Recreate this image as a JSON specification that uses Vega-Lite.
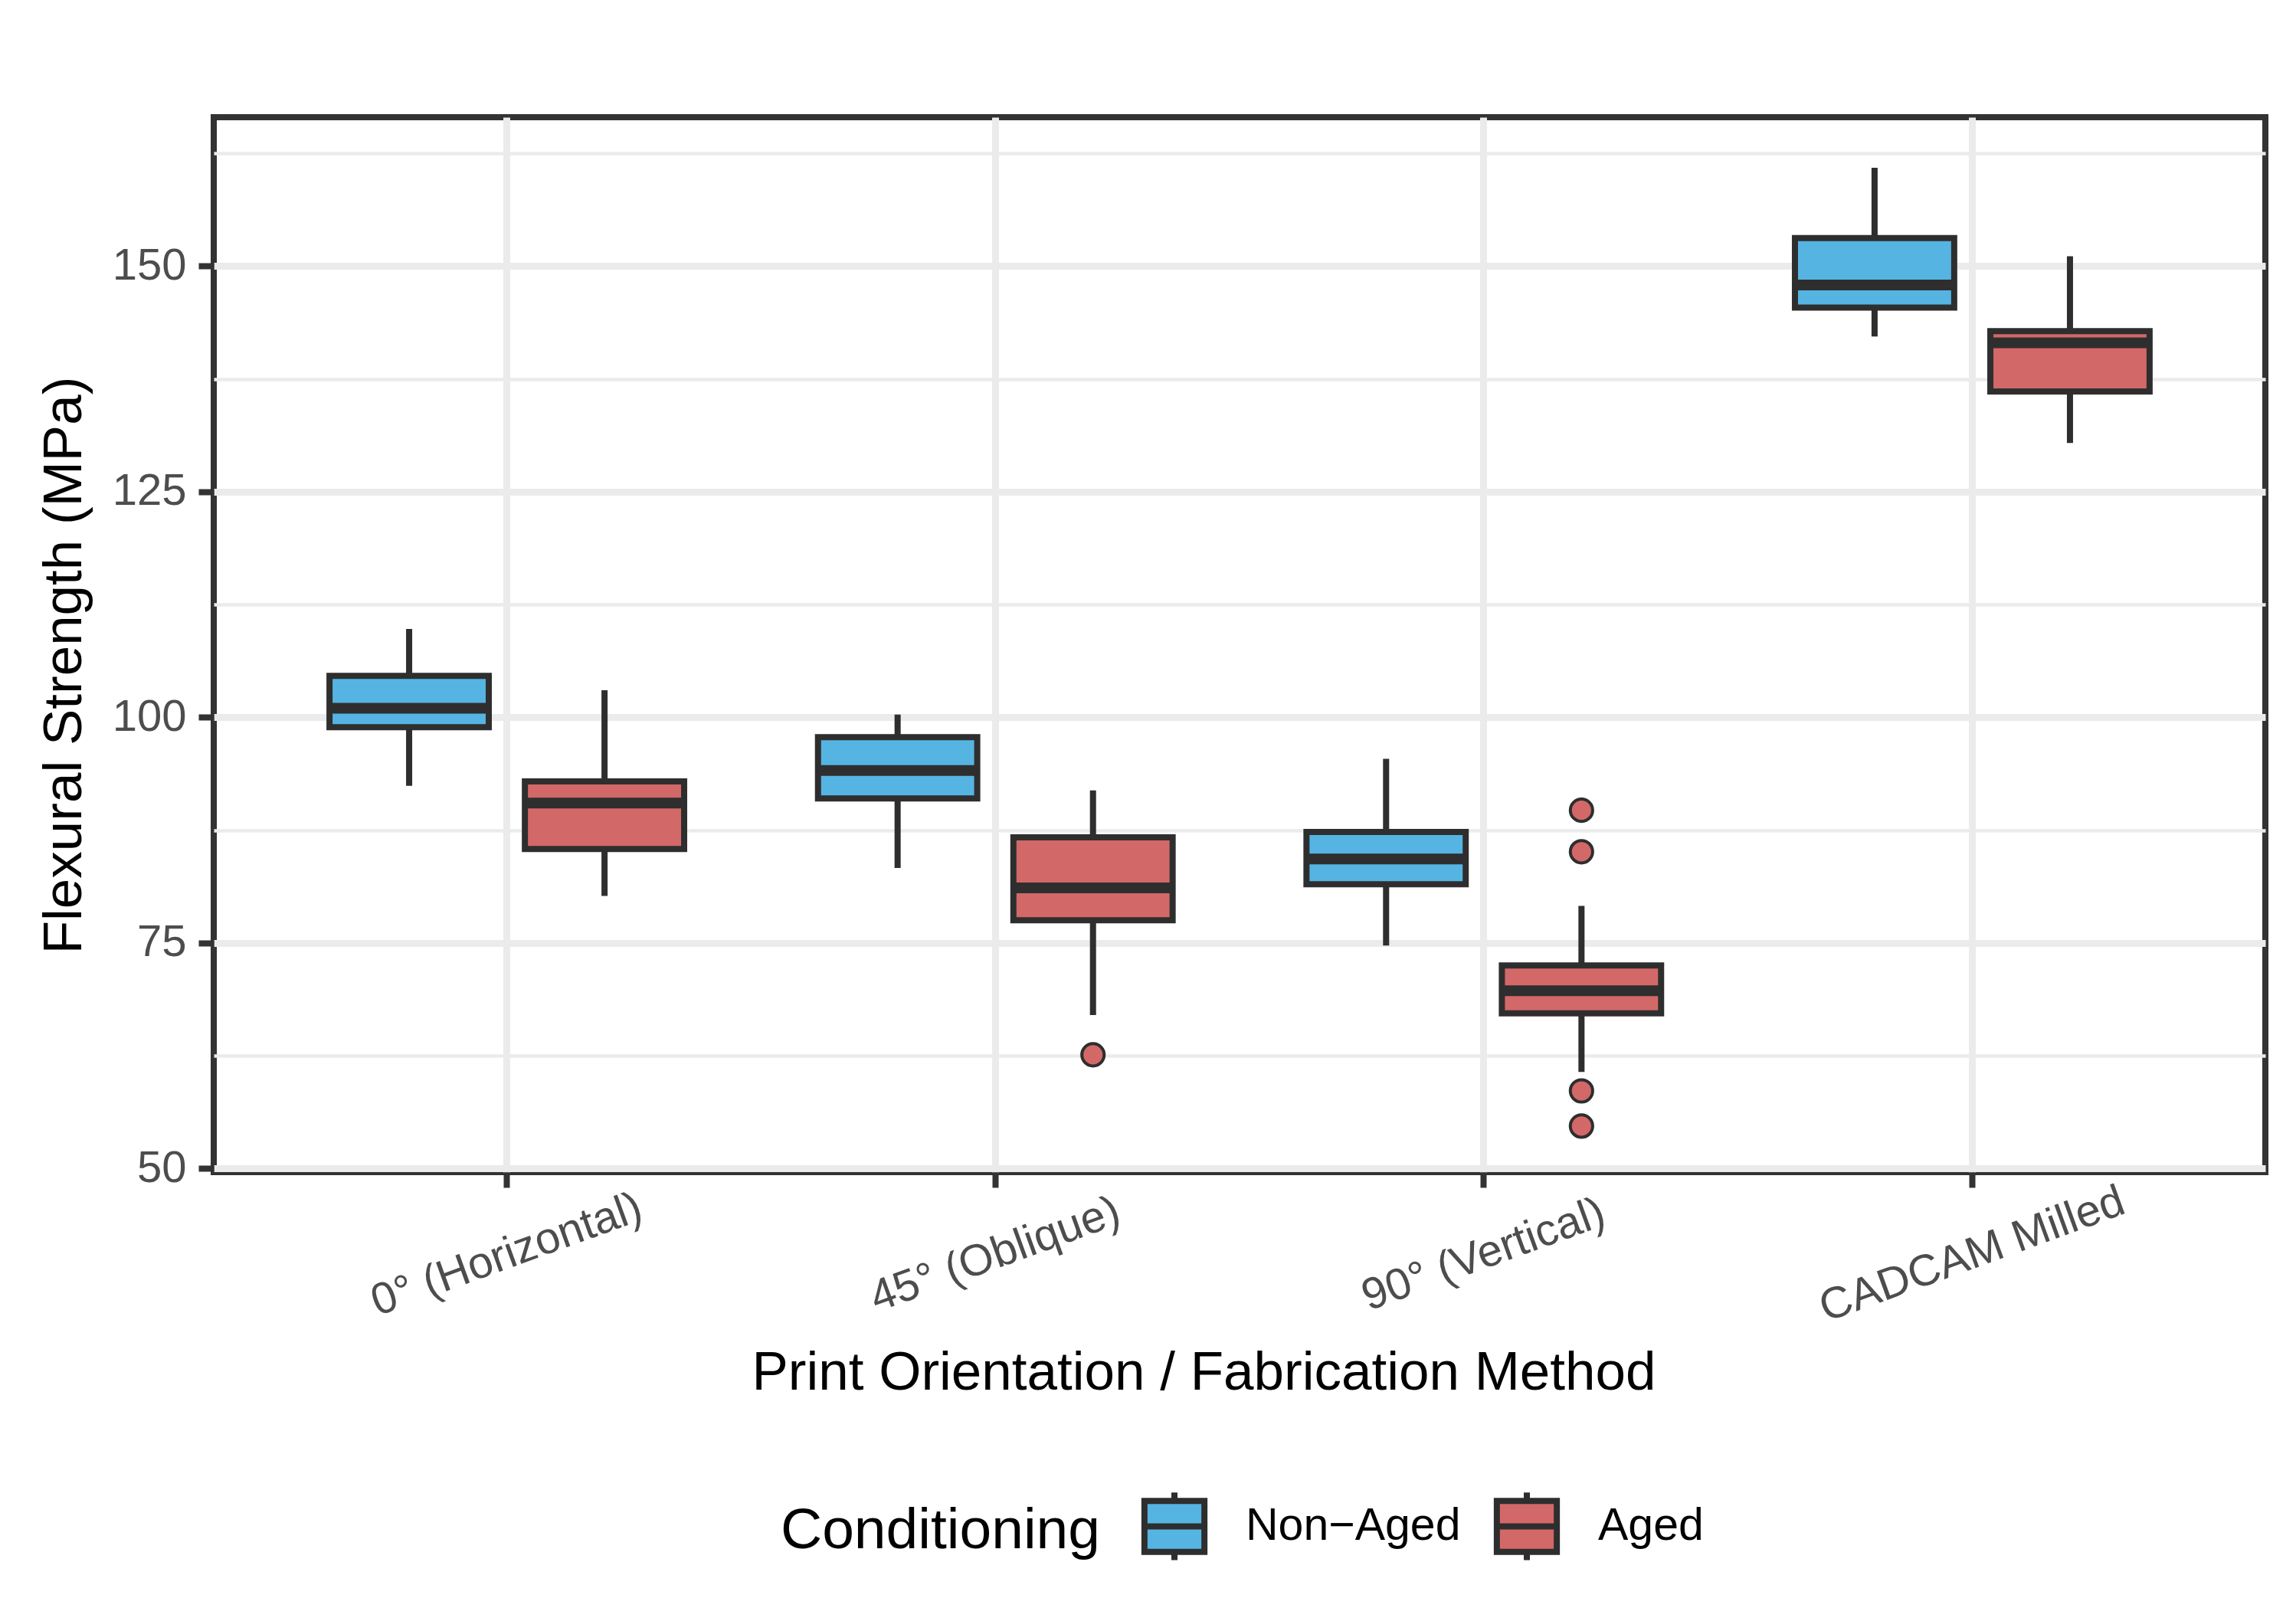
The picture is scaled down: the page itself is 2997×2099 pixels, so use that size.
{
  "$schema": "https://vega.github.io/schema/vega-lite/v6.json",
  "width": 2678,
  "height": 1377,
  "autosize": "none",
  "padding": {"left": 279, "top": 153, "right": 40, "bottom": 569},
  "background": "white",
  "config": {
    "font": "Liberation Sans",
    "view": {"stroke": "#333333", "strokeWidth": 8},
    "axis": {
      "gridColor": "#EBEBEB",
      "tickColor": "#333333",
      "labelColor": "#4D4D4D",
      "labelFontSize": 58,
      "labelLimit": 0,
      "titleFontSize": 71,
      "titleColor": "#000000",
      "titleFontWeight": "normal",
      "domain": false
    }
  },
  "datasets": {
    "boxes": [
      {"group": "0° (Horizontal)", "condition": "Non−Aged", "lower": 92.4, "q1": 98.9, "median": 101.0, "q3": 104.6, "upper": 109.8},
      {"group": "0° (Horizontal)", "condition": "Aged", "lower": 80.2, "q1": 85.4, "median": 90.5, "q3": 92.9, "upper": 103.0},
      {"group": "45° (Oblique)", "condition": "Non−Aged", "lower": 83.3, "q1": 91.0, "median": 94.1, "q3": 97.8, "upper": 100.3},
      {"group": "45° (Oblique)", "condition": "Aged", "lower": 67.0, "q1": 77.5, "median": 81.1, "q3": 86.7, "upper": 91.9},
      {"group": "90° (Vertical)", "condition": "Non−Aged", "lower": 74.7, "q1": 81.5, "median": 84.3, "q3": 87.3, "upper": 95.4},
      {"group": "90° (Vertical)", "condition": "Aged", "lower": 60.7, "q1": 67.2, "median": 69.7, "q3": 72.5, "upper": 79.1},
      {"group": "CADCAM Milled", "condition": "Non−Aged", "lower": 142.2, "q1": 145.4, "median": 147.9, "q3": 153.1, "upper": 160.9},
      {"group": "CADCAM Milled", "condition": "Aged", "lower": 130.4, "q1": 136.1, "median": 141.5, "q3": 142.8, "upper": 151.1}
    ],
    "outliers": [
      {"group": "45° (Oblique)", "condition": "Aged", "value": 62.6},
      {"group": "90° (Vertical)", "condition": "Aged", "value": 89.7},
      {"group": "90° (Vertical)", "condition": "Aged", "value": 85.1},
      {"group": "90° (Vertical)", "condition": "Aged", "value": 58.6},
      {"group": "90° (Vertical)", "condition": "Aged", "value": 54.7}
    ]
  },
  "layer": [
    {
      "data": {"name": "boxes"},
      "mark": {"type": "rule", "color": "#2E2E2E", "strokeWidth": 8, "opacity": 1},
      "encoding": {
        "x": {
          "field": "group", "type": "nominal",
          "sort": ["0° (Horizontal)", "45° (Oblique)", "90° (Vertical)", "CADCAM Milled"],
          "scale": {"paddingInner": 0, "paddingOuter": 0.1},
          "axis": {
            "title": "Print Orientation / Fabrication Method",
            "grid": true, "gridWidth": 9, "bandPosition": 0.5,
            "tickSize": 20, "tickWidth": 8,
            "labelAngle": -20, "labelAlign": "center", "labelBaseline": "middle",
            "labelPadding": 88, "labelOverlap": false, "labelFlush": false, "labelDx": -20,
            "titleX": 1292, "titleY": 283, "titleBaseline": "alphabetic"
          }
        },
        "xOffset": {
          "field": "condition", "type": "nominal", "sort": ["Non−Aged", "Aged"],
          "scale": {"paddingInner": 0.185, "paddingOuter": 0.3425}
        },
        "y": {
          "field": "lower", "type": "quantitative",
          "scale": {"domain": [49.6, 166.5], "nice": false, "zero": false},
          "axis": {
            "orient": "left", "values": [50, 75, 100, 125, 150],
            "title": "Flexural Strength (MPa)",
            "gridWidth": 9, "tickSize": 20, "tickWidth": 8, "labelPadding": 16,
            "titleAngle": 270, "titleBaseline": "alphabetic", "titleX": -174, "titleY": 715
          }
        },
        "y2": {"field": "upper"}
      }
    },
    {
      "data": {"name": "boxes"},
      "mark": {"type": "bar", "stroke": "#2E2E2E", "strokeWidth": 8, "opacity": 1},
      "encoding": {
        "x": {"field": "group", "type": "nominal", "sort": ["0° (Horizontal)", "45° (Oblique)", "90° (Vertical)", "CADCAM Milled"]},
        "xOffset": {"field": "condition", "type": "nominal", "sort": ["Non−Aged", "Aged"]},
        "y": {"field": "q1", "type": "quantitative", "scale": {"domain": [49.6, 166.5], "nice": false, "zero": false}, "axis": null},
        "y2": {"field": "q3"},
        "fill": {
          "field": "condition", "type": "nominal",
          "scale": {"domain": ["Non−Aged", "Aged"], "range": ["#56B4E2", "#D36868"]},
          "legend": {
            "title": "Conditioning",
            "orient": "none", "legendX": 740, "legendY": 1790,
            "direction": "horizontal",
            "titleOrient": "left", "titleFontSize": 75, "titleFontWeight": "normal",
            "titleColor": "#000000", "titlePadding": 48, "titleLimit": 0,
            "titleBaseline": "middle", "titleAnchor": "middle",
            "labelFontSize": 59, "labelColor": "#000000", "labelOffset": 44, "labelLimit": 0,
            "columnPadding": 30,
            "symbolType": "M-0.87,-0.74H0.87V0.74H-0.87Z M-0.87,0H0.87 M0,-0.74V-0.98 M0,0.74V0.98",
            "symbolSize": 8100,
            "symbolStrokeColor": "#2E2E2E", "symbolStrokeWidth": 8, "symbolOpacity": 1
          }
        }
      }
    },
    {
      "data": {"name": "boxes"},
      "mark": {"type": "tick", "orient": "horizontal", "thickness": 14, "size": 208, "color": "#2E2E2E", "opacity": 1},
      "encoding": {
        "x": {"field": "group", "type": "nominal", "sort": ["0° (Horizontal)", "45° (Oblique)", "90° (Vertical)", "CADCAM Milled"]},
        "xOffset": {"field": "condition", "type": "nominal", "sort": ["Non−Aged", "Aged"]},
        "y": {"field": "median", "type": "quantitative", "scale": {"domain": [49.6, 166.5], "nice": false, "zero": false}, "axis": null}
      }
    },
    {
      "data": {"name": "outliers"},
      "mark": {"type": "point", "shape": "circle", "filled": true, "size": 850, "stroke": "#2E2E2E", "strokeWidth": 4, "opacity": 1},
      "encoding": {
        "x": {"field": "group", "type": "nominal", "sort": ["0° (Horizontal)", "45° (Oblique)", "90° (Vertical)", "CADCAM Milled"]},
        "xOffset": {"field": "condition", "type": "nominal", "sort": ["Non−Aged", "Aged"]},
        "y": {
          "field": "value", "type": "quantitative",
          "scale": {"domain": [49.6, 166.5], "nice": false, "zero": false},
          "axis": {
            "orient": "right", "values": [62.5, 87.5, 112.5, 137.5, 162.5],
            "grid": true, "gridWidth": 4.5, "labels": false, "ticks": false, "title": null
          }
        },
        "fill": {"field": "condition", "type": "nominal", "scale": {"domain": ["Non−Aged", "Aged"], "range": ["#56B4E2", "#D36868"]}}
      }
    }
  ],
  "resolve": {"axis": {"y": "independent"}}
}
